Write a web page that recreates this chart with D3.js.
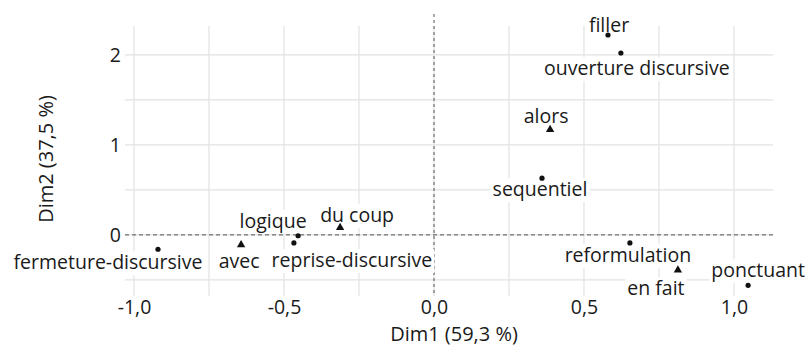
<!DOCTYPE html>
<html>
<head>
<meta charset="utf-8">
<script src="https://cdn.jsdelivr.net/npm/d3@7"></script>
<style>
  html, body { margin: 0; padding: 0; background: #fff; }
  svg { display: block; }
  text { font-family: "Open Sans", "Noto Sans", sans-serif; fill: #1a1a1a; }
</style>
</head>
<body>
<svg id="chart" width="808" height="347"></svg>
<script>
// ---- data ----
const labels = ["filler", "ouverture discursive", "alors", "sequentiel",
  "fermeture-discursive", "avec", "logique", "reprise-discursive",
  "du coup", "reformulation", "en fait", "ponctuant"];
const dim1 = [0.58, 0.623, 0.387, 0.36, -0.92, -0.643, -0.453, -0.467, -0.313, 0.653, 0.813, 1.047];
const dim2 = [2.22, 2.02, 1.17, 0.63, -0.16, -0.11, -0.01, -0.09, 0.08, -0.09, -0.39, -0.56];
const kind = ["row", "row", "col", "row", "row", "col", "row", "row", "col", "row", "col", "row"];
const xTicks = [-1.0, -0.5, 0.0, 0.5, 1.0];
const xTickLabels = ["-1,0", "-0,5", "0,0", "0,5", "1,0"];
const yTicks = [0, 1, 2];
const yTickLabels = ["0", "1", "2"];
const xTitle = "Dim1 (59,3 %)";
const yTitle = "Dim2 (37,5 %)";

// ---- layout (label nudges in px, repel-like placement) ----
const labelNudge = [[1, -3], [16, 22], [-4, -7], [-2, 18], [-50, 20], [-2, 23],
  [-25, -8], [58, 24], [17, -6], [-2, 19], [-22, 25], [10, -8]];

const svg = d3.select("#chart");
const panel = { left: 125, right: 773, top: 26, bottom: 296 };
const FS = "19.5px";

const x = d3.scaleLinear().domain([-1.03, 1.13]).range([panel.left, panel.right]);
const y = d3.scaleLinear().domain([-0.679, 2.32]).range([panel.bottom, panel.top]);

const grid = svg.append("g");
const xGrid = d3.range(-1.0, 1.001, 0.25);
const yGrid = d3.range(-0.5, 2.001, 0.5);
grid.selectAll(".vg").data(xGrid).join("line")
  .attr("x1", d => x(d)).attr("x2", d => x(d))
  .attr("y1", panel.top).attr("y2", panel.bottom)
  .attr("stroke", "#e2e2e2").attr("stroke-width", 1.2);
grid.selectAll(".hg").data(yGrid).join("line")
  .attr("x1", panel.left).attr("x2", panel.right)
  .attr("y1", d => y(d)).attr("y2", d => y(d))
  .attr("stroke", "#e2e2e2").attr("stroke-width", 1.2);

// reference lines
svg.append("line")
  .attr("x1", panel.left).attr("x2", panel.right)
  .attr("y1", y(0)).attr("y2", y(0))
  .attr("stroke", "#555").attr("stroke-width", 1).attr("stroke-dasharray", "4,3");
svg.append("line")
  .attr("x1", x(0)).attr("x2", x(0))
  .attr("y1", 14).attr("y2", panel.bottom)
  .attr("stroke", "#555").attr("stroke-width", 1).attr("stroke-dasharray", "3,3");

// axes
const xAxis = d3.axisBottom(x).tickValues(xTicks)
  .tickFormat((d, i) => xTickLabels[i]).tickSize(0).tickPadding(3);
const gx = svg.append("g").attr("transform", `translate(0,${panel.bottom})`).call(xAxis);
gx.select(".domain").remove();
gx.selectAll("text").style("font-family", "'Open Sans', sans-serif")
  .style("font-size", FS).attr("fill", "#1a1a1a").attr("dy", "0.76em");

const yAxis = d3.axisLeft(y).tickValues(yTicks)
  .tickFormat((d, i) => yTickLabels[i]).tickSize(0).tickPadding(4);
const gy = svg.append("g").attr("transform", `translate(${panel.left},0)`).call(yAxis);
gy.select(".domain").remove();
gy.selectAll("text").style("font-family", "'Open Sans', sans-serif")
  .style("font-size", FS).attr("fill", "#1a1a1a");

// axis titles
svg.append("text").attr("x", (panel.left + panel.right) / 2 + 5).attr("y", 341)
  .attr("text-anchor", "middle").style("font-size", "20px").text(xTitle);
svg.append("text").attr("transform", `translate(53,${(panel.top + panel.bottom) / 2 - 2}) rotate(-90)`)
  .attr("text-anchor", "middle").style("font-size", "20px").text(yTitle);

// labels with white backing
const data = labels.map((l, i) => ({ l, x: dim1[i], y: dim2[i], k: kind[i], n: labelNudge[i] }));
const lg = svg.append("g");
const lab = lg.selectAll("g").data(data).join("g");
lab.append("text")
  .attr("x", d => x(d.x) + d.n[0]).attr("y", d => y(d.y) + d.n[1])
  .attr("text-anchor", "middle").style("font-size", FS).text(d => d.l);
lab.each(function () {
  const t = d3.select(this).select("text");
  const b = t.node().getBBox();
  d3.select(this).insert("rect", "text")
    .attr("x", b.x - 2).attr("y", b.y + 3).attr("width", b.width + 4).attr("height", b.height - 3)
    .attr("fill", "#fff");
});

// points
const pts = svg.append("g");
pts.selectAll("circle").data(data.filter(d => d.k === "row")).join("circle")
  .attr("cx", d => x(d.x)).attr("cy", d => y(d.y)).attr("r", 2.6).attr("fill", "#111");
const tri = d3.symbol().type(d3.symbolTriangle).size(30);
pts.selectAll("path").data(data.filter(d => d.k === "col")).join("path")
  .attr("transform", d => `translate(${x(d.x)},${y(d.y)})`).attr("d", tri).attr("fill", "#111");
</script>
</body>
</html>
